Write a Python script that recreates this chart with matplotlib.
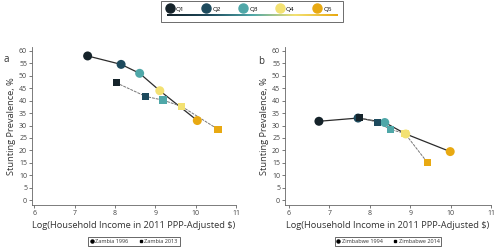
import numpy as np
import matplotlib
matplotlib.use("Agg")
import matplotlib.pyplot as plt
from matplotlib.lines import Line2D
from matplotlib.patches import Rectangle
from matplotlib.colors import LinearSegmentedColormap

plt.rcParams['font.family'] = ['Open Sans', 'DejaVu Sans']

quintiles = ['Q1', 'Q2', 'Q3', 'Q4', 'Q5']
q_colors = ['#15232a', '#1d4a5d', '#4fa7a8', '#f3e172', '#e8a912']

# Zambia (panel a)
zam_1996_x = [7.32, 8.15, 8.61, 9.11, 10.04]
zam_1996_y = [58.0, 54.6, 51.0, 44.0, 32.0]
zam_2013_x = [8.03, 8.76, 9.19, 9.65, 10.55]
zam_2013_y = [47.2, 41.7, 40.2, 37.7, 28.5]

# Zimbabwe (panel b)
zim_1994_x = [6.74, 7.71, 8.37, 8.89, 9.99]
zim_1994_y = [31.7, 33.0, 31.2, 26.6, 19.5]
zim_2014_x = [7.74, 8.19, 8.51, 8.87, 9.43]
zim_2014_y = [33.2, 31.3, 28.4, 26.8, 15.0]

panels = [
    ('a', 'Zambia 1996', zam_1996_x, zam_1996_y, 'Zambia 2013', zam_2013_x, zam_2013_y),
    ('b', 'Zimbabwe 1994', zim_1994_x, zim_1994_y, 'Zimbabwe 2014', zim_2014_x, zim_2014_y),
]

W, H = 494, 249
fig = plt.figure(figsize=(W / 100, H / 100), dpi=100)

axes_px = [(32, 47, 236, 205), (285, 47, 491, 205)]
xlims = [(5.94, 11.0), (5.9, 11.0)]
label_px = [(3, 60), (258, 62)]

for (tag, n1, x1, y1, n2, x2, y2), (l, t, r, b), xl, lp in zip(panels, axes_px, xlims, label_px):
    ax = fig.add_axes([l / W, 1 - b / H, (r - l) / W, (b - t) / H])
    ax.plot(x1, y1, color='#2b2b2b', lw=0.9, zorder=1)
    ax.plot(x2, y2, color='#777777', lw=0.7, ls=(0, (3, 1)), zorder=1)
    ax.scatter(x1, y1, s=42, c=q_colors, marker='o', zorder=2, linewidths=0)
    ax.scatter(x2, y2, s=28, c=q_colors, marker='s', zorder=3, linewidths=0)
    ax.set_xlim(*xl)
    ax.set_ylim(-2.0, 61.6)
    ax.set_xticks(range(6, 12))
    ax.set_yticks(range(0, 61, 5))
    for side in ['top', 'right']:
        ax.spines[side].set_visible(False)
    for side in ['left', 'bottom']:
        ax.spines[side].set_color('#666666')
        ax.spines[side].set_linewidth(0.6)
    ax.tick_params(labelsize=5, colors='#444444', length=2, width=0.5, pad=1.5)
    ax.set_xlabel('Log(Household Income in 2011 PPP-Adjusted $)', fontsize=6.7,
                  color='#333333', labelpad=3)
    ax.set_ylabel('Stunting Prevalence, %', fontsize=6.7, color='#333333', labelpad=2)
    fig.text(lp[0] / W, 1 - lp[1] / H, tag, fontsize=7, color='#333333', va='center')
    handles = [Line2D([], [], marker='o', ls='', color='black', markersize=2.2),
               Line2D([], [], marker='s', ls='', color='black', markersize=2.0)]
    leg = ax.legend(handles, [n1, n2], ncol=2, loc='upper center',
                    bbox_to_anchor=(0.5, -0.205), fontsize=4, frameon=True,
                    fancybox=False, handlelength=0.6, handletextpad=0.3,
                    columnspacing=2.0, borderpad=0.35, borderaxespad=0,
                    labelcolor='#333333')
    leg.get_frame().set_edgecolor('#222222')
    leg.get_frame().set_linewidth(0.6)

# top quintile legend
fig.patches.append(Rectangle((161 / W, 1 - 22 / H), 182 / W, 21 / H, transform=fig.transFigure,
                             facecolor='white', edgecolor='#555555', lw=0.6, zorder=-1))
q_handles = [Line2D([], [], marker='o', ls='', color=c, markersize=6.5) for c in q_colors]
fig.legend(q_handles, quintiles, ncol=5, loc='center left', bbox_to_anchor=(167 / W, 1 - 9 / H),
           fontsize=4.5, frameon=False, handlelength=0.8, handletextpad=0.55,
           columnspacing=3.2, borderpad=0, borderaxespad=0)
bar_ax = fig.add_axes([167 / W, 1 - 16.5 / H, 170 / W, 2.2 / H])
bar_ax.set_zorder(5)
cmap = LinearSegmentedColormap.from_list('q', q_colors)
bar_ax.imshow(np.linspace(0, 1, 256)[None, :], aspect='auto', cmap=cmap)
bar_ax.axis('off')

fig.savefig('out.png', dpi=100)
